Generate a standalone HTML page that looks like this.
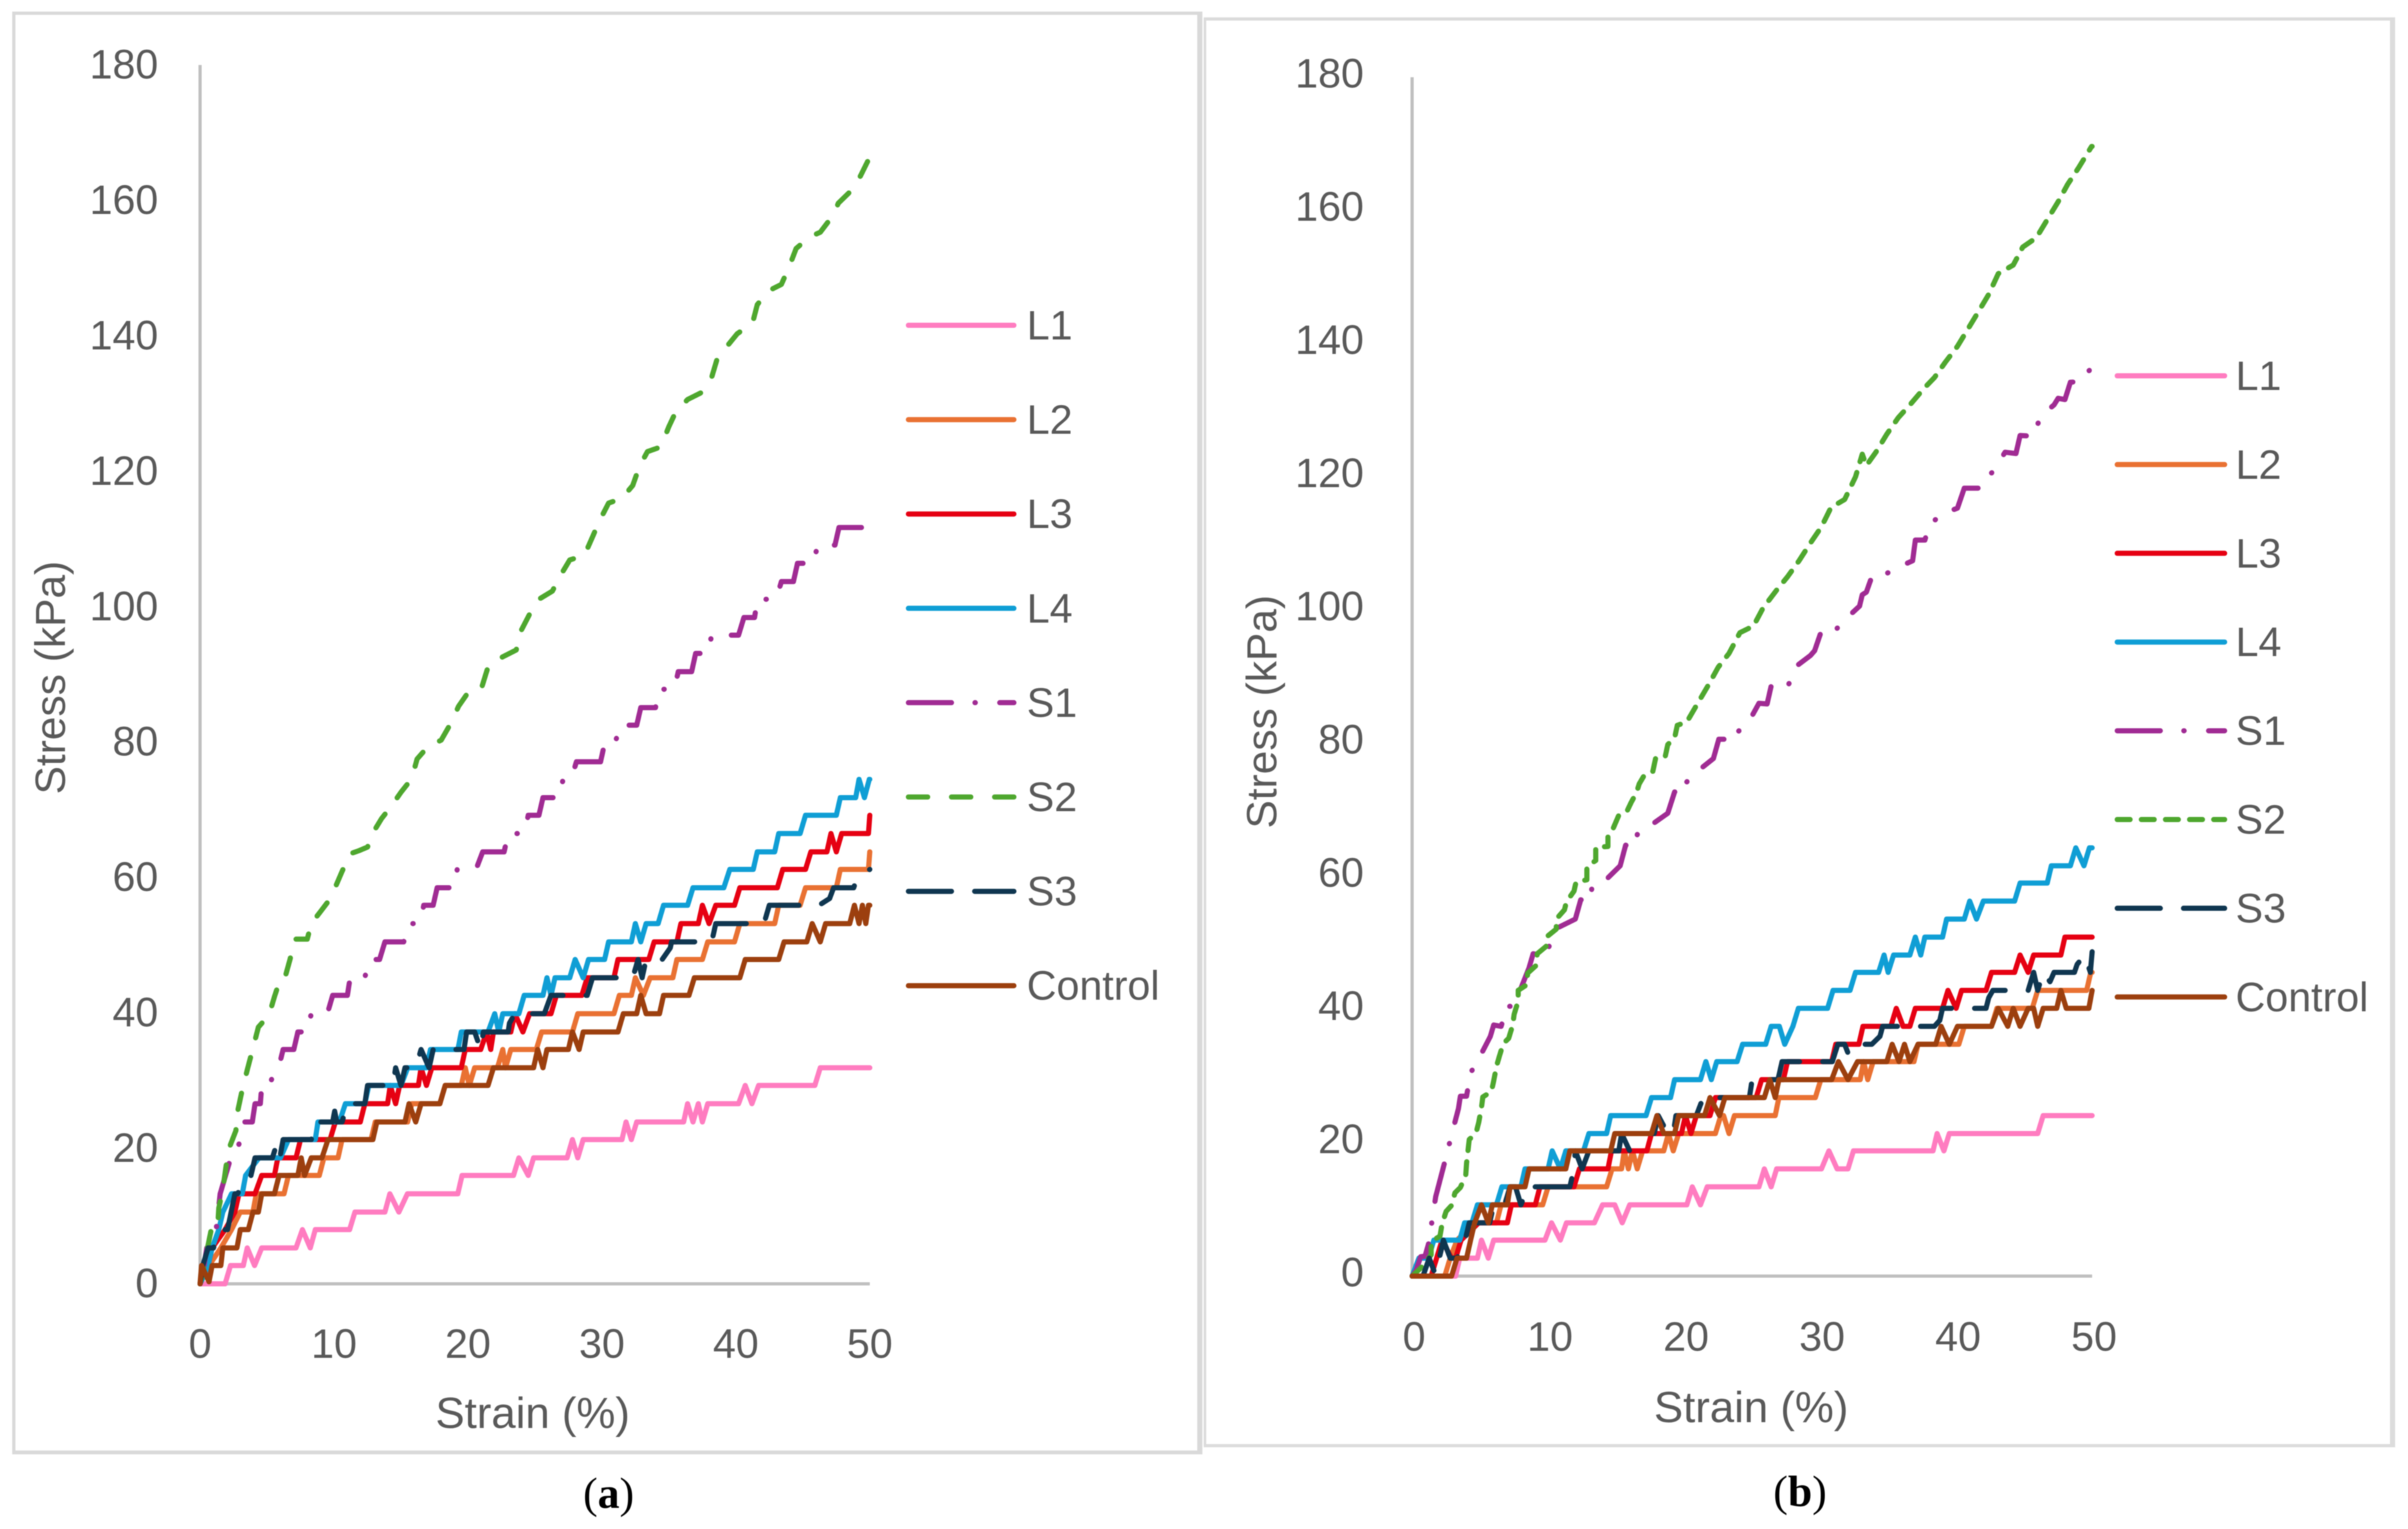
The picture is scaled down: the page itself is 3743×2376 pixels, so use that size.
<!DOCTYPE html>
<html lang="en">
<head>
<meta charset="utf-8">
<title>Stress vs strain charts</title>
<style>
html,body{margin:0;padding:0;background:#fff;width:3743px;height:2376px;overflow:hidden}
svg{display:block;filter:blur(0.9px)}
text{font-family:"Liberation Sans",sans-serif;fill:#595959}
.cap{font-family:"Liberation Serif",serif;fill:#000}
</style>
</head>
<body>
<svg id="figure" xmlns="http://www.w3.org/2000/svg" width="3743" height="2376" viewBox="0 0 3743 2376">
  <rect width="3743" height="2376" fill="#ffffff"/>
  <g fill="#d9d9d9">
    <rect x="19" y="18" width="1850" height="5"/>
    <rect x="19" y="18" width="5" height="2241"/>
    <rect x="19" y="2254" width="1850" height="6"/>
    <rect x="1861" y="18" width="8" height="2242"/>
  </g>
  <g fill="#dcdcdc">
    <rect x="1871" y="27" width="1852" height="5"/>
    <rect x="1871" y="27" width="4" height="2222"/>
    <rect x="1871" y="2244" width="1852" height="5"/>
    <rect x="3715" y="27" width="8" height="2222"/>
  </g>
  <text class="cap" x="946" y="2343" font-size="68" text-anchor="middle">(<tspan font-weight="bold">a</tspan>)</text>
  <text class="cap" x="2798" y="2340" font-size="68" text-anchor="middle">(<tspan font-weight="bold">b</tspan>)</text>
</svg>
<script>
const strainTicks = [0,10,20,30,40,50];
const stressTicks = [0,20,40,60,80,100,120,140,160,180];
const seriesNames = ['L1','L2','L3','L4','S1','S2','S3','Control'];

const aL1 = [[0,0],[1.87,0],[2.27,2.7],[3.23,2.7],[3.52,5.3],[4.07,2.7],[4.6,5.3],[7.16,5.3],[7.64,8],[8.23,5.3],[8.6,8],[11.16,8],[11.56,10.6],[13.8,10.6],[14.17,13.3],[14.84,10.6],[15.48,13.3],[19.24,13.3],[19.56,16],[23.4,16],[23.8,18.6],[24.5,16],[24.9,18.6],[27.4,18.6],[27.8,21.3],[28.2,18.6],[28.6,21.3],[31.5,21.3],[31.8,23.9],[32.2,21.3],[32.6,23.9],[36.1,23.9],[36.4,26.6],[36.8,23.9],[37.2,26.6],[37.5,23.9],[37.9,26.6],[40.2,26.6],[40.7,29.3],[41.2,26.6],[41.7,29.3],[45.9,29.3],[46.3,31.9],[50,31.9]];
const aL2 = [[0,0],[.67,2.7],[1.55,5.3],[2.35,8],[3,10.6],[3.95,10.6],[4.2,13.3],[6.27,13.3],[6.6,16],[8.9,16],[9.24,18.6],[10.3,18.6],[10.6,21.3],[12.76,21.3],[13.08,23.9],[15.5,23.9],[15.8,26.6],[17.9,26.6],[18.3,29.3],[19.5,29.3],[19.8,31.9],[20.1,29.3],[20.5,31.9],[22.2,31.9],[22.6,34.6],[22.8,31.9],[23.2,34.6],[25.1,34.6],[25.5,37.2],[27.8,37.2],[28.2,39.9],[30.9,39.9],[31.3,42.6],[32.2,42.6],[32.5,45.2],[33.1,42.6],[33.6,45.2],[35.3,45.2],[35.6,47.9],[37.5,47.9],[37.9,50.5],[39.9,50.5],[40.3,53.2],[42.9,53.2],[43.2,55.9],[44.8,55.9],[45.2,58.5],[47.5,58.5],[47.8,61.2],[49.9,61.2],[50,63.8]];
const aL3 = [[0,0],[.6,2.7],[.9,5.3],[1.87,8],[2.6,10.6],[2.9,13.3],[4.1,13.3],[4.6,16],[5.55,16],[5.8,18.6],[7.16,18.6],[7.5,21.3],[9.7,21.3],[10.1,23.9],[11.96,23.9],[12.3,26.6],[14,26.6],[14.2,29.3],[14.6,26.6],[14.9,29.3],[16.3,29.3],[16.5,31.9],[16.9,29.3],[17.3,31.9],[19.5,31.9],[19.8,34.6],[20.95,34.6],[21.4,37.2],[21.7,34.6],[21.9,37.2],[23.2,37.2],[23.5,39.9],[24.1,37.2],[24.6,39.9],[26.2,39.9],[26.6,42.6],[28.5,42.6],[28.9,45.2],[30.9,45.2],[31.2,47.9],[33.5,47.9],[33.9,50.5],[35.6,50.5],[35.9,53.2],[37.2,53.2],[37.5,55.9],[38,53.2],[38.5,55.9],[39.9,55.9],[40.3,58.5],[43.1,58.5],[43.5,61.2],[45.2,61.2],[45.6,63.8],[46.8,63.8],[47.1,66.5],[47.5,63.8],[47.9,66.5],[49.9,66.5],[50,69.2]];
const aL4 = [[0,0],[.6,2.7],[.9,5.3],[1.4,8],[1.7,10.6],[2.35,13.3],[3.15,13.3],[3.4,16],[4.4,18.6],[6,18.6],[6.6,21.3],[8.6,21.3],[8.8,23.9],[10.4,23.9],[10.85,26.6],[12.3,26.6],[12.6,29.3],[15,29.3],[15.5,31.9],[16.9,31.9],[17.2,34.6],[19.25,34.6],[19.5,37.2],[21.5,37.2],[22,39.9],[22.3,37.2],[22.6,39.9],[23.8,39.9],[24.2,42.6],[25.6,42.6],[25.9,45.2],[26.2,42.6],[26.5,45.2],[27.6,45.2],[28,47.9],[28.6,45.2],[29,47.9],[30.2,47.9],[30.5,50.5],[32.2,50.5],[32.5,53.2],[32.9,50.5],[33.3,53.2],[34.2,53.2],[34.6,55.9],[36.4,55.9],[36.8,58.5],[39.1,58.5],[39.55,61.2],[41.3,61.2],[41.6,63.8],[42.9,63.8],[43.2,66.5],[44.8,66.5],[45.2,69.2],[47.5,69.2],[47.8,71.8],[48.95,71.8],[49.2,74.5],[49.6,71.8],[49.96,74.5],[50,74.5]];
const aS1 = [[0,0],[.3,2.7],[.5,5.3],[.9,5.3],[1.2,8],[1.5,13.3],[2.2,18],[2.6,18.6],[3,21.3],[3.3,23.9],[3.9,23.9],[4.1,26.6],[4.5,26.6],[4.6,29.3],[5.2,29.3],[5.6,31.9],[6,33],[6.2,34.6],[7,34.6],[7.3,37.2],[8,37.2],[8.3,39.9],[9.5,39.9],[9.9,42.6],[11,42.6],[11.2,45.2],[12.3,45.2],[12.6,47.9],[13.4,47.9],[13.8,50.5],[15.2,50.5],[15.6,53.2],[16.4,53.2],[16.7,55.9],[17.4,55.9],[17.7,58.5],[18.9,58.5],[19.2,61.2],[20.6,61.2],[21.1,63.8],[22.7,63.8],[23,66.5],[24.2,66.5],[24.5,69.2],[25.3,69.2],[25.6,71.8],[26.8,71.8],[27.1,74.5],[27.7,74.5],[28.1,77.1],[29.9,77.1],[30.2,79.8],[31,79.8],[31.3,82.5],[32.6,82.5],[32.9,85.1],[34,85.1],[34.3,87.8],[35.4,87.8],[35.7,90.4],[36.7,90.4],[37,93.1],[37.9,93.1],[38.2,95.8],[40.2,95.8],[40.6,98.4],[41.4,98.4],[41.6,101.1],[43,101.1],[43.4,103.7],[44.3,103.7],[44.6,106.4],[45.8,106.4],[46.1,109.1],[47.4,109.1],[47.7,111.7],[49.7,111.7],[49.9,114],[50,114]];
const aS2 = [[0,0],[.3,2.7],[.6,5.75],[.83,8],[1.3,8],[1.4,11.2],[1.7,14],[1.95,17.5],[2.2,20.2],[2.67,22.6],[2.83,25.7],[3.15,28.7],[3.55,31.8],[3.95,34.8],[4.35,37.9],[5.15,39.7],[5.55,42.4],[6,45.1],[6.35,45.3],[6.7,47.8],[7.1,50.9],[8,50.9],[8.3,53.2],[9,55],[9.5,56.3],[10.1,58.6],[10.6,60.9],[11.2,63.5],[11.9,64],[12.5,64.5],[12.9,66.6],[13.55,68.7],[14.3,70.6],[15,72.6],[15.8,74.6],[16.2,77.5],[17,79.3],[18,80.3],[18.7,82.7],[19.3,85.3],[20,87.3],[21,87.9],[21.5,91.1],[22.5,92.5],[23.6,93.6],[24,96.6],[24.6,98.9],[25.3,101.1],[26.3,102.3],[26.9,104.6],[27.6,106.9],[28.7,107.6],[29.3,110.3],[29.8,112.6],[30.5,115.3],[31.5,116],[32.3,117.9],[32.8,120.7],[33.4,122.9],[34.4,123.6],[35,126.6],[35.5,128.7],[36.4,130.6],[37.4,131.6],[38.2,133.9],[38.6,136.6],[39.4,138.6],[40.1,140.3],[41.25,141.9],[41.6,144.6],[42.4,146.6],[43.4,147.6],[44,150.3],[44.5,152.9],[45.5,154.6],[46.3,155.3],[47.3,157.9],[47.65,159.6],[48.7,161.6],[49.3,163.6],[49.9,166],[50,166]];
const aS3 = [[0,0],[.2,2.7],[.6,5.3],[1,5.3],[1.55,8],[2.05,8],[2.6,13.3],[2.8,13.3],[3.5,16],[3.8,16],[4.1,18.6],[5.4,18.6],[5.7,20.5],[5.95,18.6],[6.2,21.3],[8.3,21.3],[8.6,23.9],[9.9,23.9],[10.05,25.5],[10.2,23.9],[10.6,23.9],[11,26.6],[12.3,26.6],[12.5,29.3],[14.4,29.3],[14.6,31.9],[15,29.3],[15.3,31.9],[16.1,31.9],[16.5,34.6],[17.1,31.9],[17.4,34.6],[19.7,34.6],[19.9,37.2],[20.5,37.2],[20.95,34.6],[21.15,37.2],[23,37.2],[23.1,38.5],[23.5,39.9],[25.7,39.9],[26.2,42.6],[28.9,42.6],[29.3,45.2],[32.3,45.2],[32.7,47.9],[33,45.2],[33.3,47.9],[34.5,47.9],[35.1,49.6],[35.2,50.5],[38.2,50.5],[38.5,53.2],[42.1,53.2],[42.5,55.9],[46.2,55.9],[47,56.9],[47.3,58.5],[48.8,58.5],[49,59.7],[50,61.2]];
const aControl = [[0,0],[.11,2.7],[.67,.3],[.9,2.7],[1.55,2.7],[1.7,5.3],[2.75,5.3],[3,8],[3.6,8],[3.95,10.6],[4.35,10.6],[4.6,13.3],[5.55,13.3],[5.9,16],[7.3,16],[7.55,18.6],[7.8,16],[8.3,18.6],[9.1,18.6],[9.55,21.3],[12.9,21.3],[13.2,23.9],[15.3,23.9],[15.6,26.6],[16.1,23.9],[16.5,26.6],[17.9,26.6],[18.3,29.3],[21.5,29.3],[21.9,31.9],[24.9,31.9],[25.2,34.6],[25.6,31.9],[25.9,34.6],[27.5,34.6],[27.8,37.2],[28.3,34.6],[28.6,37.2],[31.2,37.2],[31.6,39.9],[32.6,39.9],[32.9,42.6],[33.3,39.9],[34.3,39.9],[34.6,42.6],[36.5,42.6],[36.9,45.2],[40.3,45.2],[40.7,47.9],[43.2,47.9],[43.6,50.5],[45.3,50.5],[45.7,53.2],[46.3,50.5],[46.7,53.2],[48.5,53.2],[48.85,55.9],[49.2,53.2],[49.45,55.9],[49.7,53.2],[49.9,55.9],[50,55.9]];

const bL1 = [[0,0],[3.2,0],[3.5,2.7],[4.8,2.7],[5.1,5.4],[5.6,2.7],[6,5.4],[9.77,5.4],[10.25,8],[10.9,5.4],[11.35,8],[13.4,8],[14,10.7],[14.9,10.7],[15.45,8],[16,10.7],[20.2,10.7],[20.6,13.4],[21.2,10.7],[21.7,13.4],[25.5,13.4],[25.9,16.1],[26.4,13.4],[26.8,16.1],[30.1,16.1],[30.65,18.8],[31.25,16.1],[32.05,16.1],[32.45,18.8],[38.3,18.8],[38.6,21.4],[39.1,18.8],[39.5,21.4],[46,21.4],[46.4,24.1],[50,24.1]];
const bL2 = [[0,0],[2.4,0],[2.8,2.7],[3.3,5.4],[4.6,8],[6.2,8],[6.54,10.7],[9.6,10.7],[10,13.4],[14.3,13.4],[14.7,16.1],[15.4,16.1],[15.6,18.8],[15.9,16.1],[16.2,18.8],[16.55,16.1],[16.95,18.8],[18.5,18.8],[18.85,21.4],[19.2,18.8],[19.6,21.4],[22.3,21.4],[22.7,24.1],[22.9,24.1],[23.3,21.4],[23.7,24.1],[26.7,24.1],[26.97,26.8],[29.65,26.8],[30.05,29.5],[32.95,29.5],[33.2,32.2],[33.5,29.5],[33.9,32.2],[36.9,32.2],[37.2,34.8],[40.2,34.8],[40.6,37.5],[42.6,37.5],[43,40.2],[45.6,40.2],[46,42.9],[49.6,42.9],[49.9,45.6],[50,45.6]];
const bL3 = [[0,0],[1.4,0],[1.8,2.7],[2.2,5.4],[2.9,2.7],[3.2,2.7],[3.6,5.4],[4.9,8],[7,8],[7.3,10.7],[9.06,10.7],[9.4,13.4],[11.9,13.4],[12.3,16.1],[14.4,16.1],[14.66,18.8],[17.26,18.8],[17.6,21.4],[19.8,21.4],[20.1,24.1],[20.5,21.4],[20.9,24.1],[21.9,24.1],[22.3,26.8],[25.3,26.8],[25.7,29.5],[27.3,29.5],[27.6,32.2],[30.85,32.2],[31.15,34.8],[32.85,34.8],[33.15,37.5],[35.2,37.5],[35.6,40.2],[36.1,37.5],[36.6,37.5],[37,40.2],[39,40.2],[39.4,42.9],[40,40.2],[40.4,42.9],[42.2,42.9],[42.6,45.6],[44.3,45.6],[44.7,48.2],[45.3,45.6],[45.7,48.2],[47.7,48.2],[48,50.9],[50,50.9]];
const bL4 = [[0,0],[.5,2.7],[1.2,2.7],[1.6,5.4],[3.5,5.4],[3.86,8],[4.4,8],[4.8,10.7],[6.2,10.7],[6.6,13.4],[8,13.4],[8.3,16.1],[10,16.1],[10.3,18.8],[10.9,16.1],[11.3,18.8],[12.6,18.8],[13,21.4],[14.3,21.4],[14.6,24.1],[17.2,24.1],[17.6,26.8],[19,26.8],[19.3,29.5],[21.2,29.5],[21.6,32.2],[22,29.5],[22.4,32.2],[23.9,32.2],[24.3,34.8],[26,34.8],[26.4,37.5],[27,37.5],[27.4,34.8],[28,37.5],[28.4,40.2],[30.55,40.2],[30.95,42.9],[32.2,42.9],[32.6,45.6],[34.3,45.6],[34.7,48.2],[35,45.6],[35.4,48.2],[36.6,48.2],[37,50.9],[37.4,48.2],[37.7,50.9],[39,50.9],[39.3,53.6],[40.6,53.6],[41,56.3],[41.5,53.6],[42,56.3],[44.3,56.3],[44.7,59],[46.7,59],[47,61.6],[48.4,61.6],[48.8,64.3],[49.4,61.6],[49.8,64.3],[50,64.3]];
const bS1 = [[0,0],[.3,.9],[.63,2.9],[.95,3],[1.2,4.8],[1.47,8.4],[1.73,11.9],[2.5,17.9],[2.95,21.6],[3.4,25.1],[3.55,27],[4,27],[4.3,30.5],[5.07,33.3],[5.75,36],[6,37.7],[6.54,37.5],[7,40.5],[7.3,40.5],[7.9,42.7],[8.6,46.3],[8.9,48.4],[9.85,48.1],[10.1,49.7],[10.8,52.4],[12,53.6],[12.4,56.5],[13.1,56.3],[13.24,58.7],[14.4,59.8],[15.3,61.6],[15.7,64.7],[16.3,64.4],[16.6,66.6],[17.7,67.9],[18.8,69.5],[19.3,72.7],[19.9,72.4],[20.2,74.2],[21.1,76],[22.15,77.7],[22.55,80.6],[23.8,80.6],[23.9,81.6],[24.8,83.4],[25.5,86],[26.1,85.9],[26.4,88.6],[27.6,88.4],[28.2,91.5],[29.3,93.2],[29.6,93.9],[30.1,96.9],[31.04,96.8],[31.9,98.7],[32.9,100.6],[33.1,102.3],[33.4,102.7],[33.8,105],[34.4,104.9],[35.5,106.2],[36.8,107.4],[37,110.5],[37.7,110.5],[38,112.5],[38.8,114.3],[40.1,115.3],[40.6,118.3],[41.7,118.3],[41.9,119.1],[42.8,121],[43.6,123.7],[44.4,123.5],[44.7,126.2],[45.7,126.1],[46.2,129.1],[47.2,130.8],[47.5,131.8],[48,131.6],[48.4,134.2],[49,134.3],[49.9,136.2],[50,136.2]];
const bS2 = [[0,0],[.63,1.2],[1.4,3.2],[1.4,5.2],[2.05,6],[2.2,7.8],[2.5,9.7],[2.9,10.6],[3.15,12.5],[3.55,13.3],[3.94,15.1],[4,16.9],[4.1,18.7],[4.2,20.5],[4.7,21.5],[4.9,23.1],[5.1,25.3],[5.2,26.9],[5.83,27.7],[6,29.3],[6.2,31.5],[6.4,32.9],[6.7,34.9],[7.1,35.7],[7.4,37.7],[7.5,39.3],[7.8,41.3],[7.8,42.9],[8.4,43.7],[8.5,45.5],[9.1,46.6],[9.2,48.4],[9.85,49.5],[9.93,51],[10.6,52.1],[10.6,53.6],[11.2,55],[11.35,56.2],[11.9,57.8],[12.06,59.2],[12.85,59.5],[12.85,61.5],[13.5,62.4],[13.5,64.4],[14.4,64.5],[14.4,66.3],[14.8,67.3],[15.2,69.2],[15.8,69.8],[16.1,71.1],[16.5,72.6],[16.7,73.9],[17.1,75.3],[17.7,75.8],[17.9,77.7],[18.6,77.9],[18.8,79.8],[19.3,80.8],[19.5,82.7],[20.2,83.2],[21,86],[21.8,88.8],[22.5,91.4],[23.3,93.5],[24.1,96.6],[25.1,97.6],[25.8,100.3],[26.8,103],[27.6,105],[28.45,107.4],[29.3,110.1],[30.1,112.5],[30.8,115.4],[31.8,116.6],[32.6,120],[33.1,123.4],[33.4,121.7],[34.1,123.7],[34.9,126.4],[35.75,128.9],[36.6,130.8],[37.6,133.2],[38.4,134.9],[39.2,137.2],[40.1,139.6],[40.9,142.3],[41.7,145],[42.4,147.4],[43.1,150.5],[44.2,151.8],[44.9,154.5],[45.9,155.9],[46.7,158.6],[47.5,161.3],[48.2,163.9],[49,166.4],[49.96,169.6],[50,169.6]];
const bS3 = [[0,0],[.8,0],[1.26,2.7],[1.7,.3],[2,2.7],[2.3,5.4],[2.8,2.7],[3.3,2.7],[3.9,5.4],[4.2,8],[5.7,8],[6,10.7],[6.8,10.7],[7.2,13.4],[7.6,13.4],[8,10.7],[8.5,13.4],[11.6,13.4],[11.9,16.1],[12,18.8],[12.5,16.1],[13,18.8],[15.2,18.8],[15.4,21.4],[16,18.8],[16.5,21.4],[17.8,21.4],[18.1,24.1],[18.8,21.4],[19.2,21.4],[19.4,24.1],[20.9,24.1],[21.4,26.8],[24.8,26.8],[25,29.5],[26.9,29.5],[27.2,32.2],[30.9,32.2],[31.3,34.8],[31.8,34.8],[32.05,33.5],[32.4,34.8],[33.8,34.8],[34.4,36],[34.6,37.5],[38.4,37.5],[38.8,38.4],[39,40.2],[42.2,40.2],[42.4,41.8],[42.7,42.9],[45.3,42.9],[45.7,45.6],[46,42.9],[46.4,45.6],[46.9,44.2],[47.2,45.6],[48.7,45.6],[48.9,46.8],[49.45,48.2],[49.87,45.6],[50,48.7]];
const bControl = [[0,0],[2.9,0],[3.3,2.7],[4,2.7],[4.3,5.4],[4.6,8],[5.1,10.7],[5.6,8],[5.9,10.7],[7,10.7],[7.2,13.4],[8.3,13.4],[8.6,16.1],[11.3,16.1],[11.6,18.8],[14.6,18.8],[14.9,21.4],[17.6,21.4],[18,24.1],[18.5,21.4],[19.3,21.4],[19.6,24.1],[21.5,24.1],[21.9,26.8],[22.6,24.1],[23,26.8],[25.9,26.8],[26.3,29.5],[26.7,26.8],[26.97,29.5],[30.85,29.5],[31.35,32.2],[32.05,29.5],[32.75,32.2],[34.9,32.2],[35.3,34.8],[35.8,32.2],[36.2,34.8],[36.6,32.2],[37.2,34.8],[38.5,34.8],[38.9,37.5],[39.5,34.8],[40.1,37.5],[42.6,37.5],[43.1,40.2],[43.8,37.5],[44.2,40.2],[44.7,37.5],[45.3,40.2],[45.7,40.2],[46,37.5],[46.4,40.2],[47.4,40.2],[47.7,42.9],[48.1,40.2],[49.76,40.2],[50,42.9]];

const panelASeries = [aL1,aL2,aL3,aL4,aS1,aS2,aS3,aControl];
const panelBSeries = [bL1,bL2,bL3,bL4,bS1,bS2,bS3,bControl];

const seriesColors = ['#ff7cc0','#e97132','#e60012','#0f9ed5','#a02b93','#4ea72e','#0f3650','#9c3f0e'];
const NS = 'http://www.w3.org/2000/svg';
const root = document.getElementById('figure');

function svgEl(parent, tag, attrs){
  const el = document.createElementNS(NS, tag);
  for (const k in attrs) el.setAttribute(k, attrs[k]);
  parent.appendChild(el);
  return el;
}

function drawPanel(series, p){
  const prefix = p.id;
  const xScale = s => p.x0 + (p.x50 - p.x0) * s / 50;
  const yScale = v => p.y0 + (p.y180 - p.y0) * v / 180;

  const chart = svgEl(root, 'g', {});
  
  

  const yAxis = svgEl(chart, 'line', {x1:xScale(0), x2:xScale(0), y1:yScale(180), y2:yScale(0), stroke:'#bfbfbf', 'stroke-width':5});
  
  
  const xAxis = svgEl(chart, 'line', {x1:xScale(0), x2:xScale(50), y1:yScale(0), y2:yScale(0), stroke:'#bfbfbf', 'stroke-width':5});
  
  

  stressTicks.forEach(v => {
    const t = svgEl(chart, 'text', {x:p.yLabelX, y:yScale(v) + 23 + p.yLabelShift, 'font-size':64, 'text-anchor':'end'});
    t.textContent = String(v);
    
    
  });
  strainTicks.forEach(v => {
    const t = svgEl(chart, 'text', {x:xScale(v) + p.xLabelShift, y:p.xLabelY + 23, 'font-size':64, 'text-anchor':'middle'});
    t.textContent = String(v);
    
    
  });

  const xTitle = svgEl(chart, 'text', {x:p.xTitleX, y:p.xTitleY + 24, 'font-size':68, 'text-anchor':'middle'});
  xTitle.textContent = 'Strain (%)';
  
  
  const yTitle = svgEl(chart, 'text', {x:p.yTitleX, y:p.yTitleY, 'font-size':66, 'text-anchor':'middle', transform:'rotate(-90 ' + p.yTitleX + ' ' + p.yTitleY + ')', dy:24});
  yTitle.textContent = 'Stress (kPa)';
  
  

  const dashes = ['', '', '', '', '67 36.5 0.5 38', p.s2Dash, '67 36', ''];
  series.forEach((points, i) => {
    const d = points.map((pt, k) => (k ? 'L' : 'M') + xScale(pt[0]).toFixed(1) + ' ' + yScale(pt[1]).toFixed(1)).join(' ');
    const line = svgEl(chart, 'path', {d:d, fill:'none', stroke:seriesColors[i], 'stroke-width':8, 'stroke-linecap':'round', 'stroke-linejoin':'round'});
    if (dashes[i]) line.setAttribute('stroke-dasharray', dashes[i]);
    if (p.dashLength[i]) line.setAttribute('pathLength', p.dashLength[i]);
    
    
  });

  seriesNames.forEach((name, i) => {
    const ly = p.legendY + i * p.legendStep;
    const entry = svgEl(chart, 'g', {});
    
    
    const swatch = svgEl(entry, 'line', {x1:p.legendX1 + 4, x2:p.legendX2 - 4, y1:ly, y2:ly, stroke:seriesColors[i], 'stroke-width':8, 'stroke-linecap':'round'});
    if (dashes[i]) swatch.setAttribute('stroke-dasharray', dashes[i]);
    const label = svgEl(entry, 'text', {x:p.legendTextX, y:ly + 22, 'font-size':64});
    label.textContent = name;
  });
}

drawPanel(panelASeries, {id:'panel-a', x0:311, x50:1352, y0:1995, y180:101, yLabelX:246, yLabelShift:-2, xLabelY:2087, xLabelShift:0, xTitleX:828, xTitleY:2195, yTitleX:77, yTitleY:1053, legendX1:1408, legendX2:1580, legendY:505.5, legendStep:146.6, legendTextX:1596, s2Dash:'30 37', dashLength:[0,0,0,0,2090,2515,0,0]});
drawPanel(panelBSeries, {id:'panel-b', x0:2195, x50:3252, y0:1983, y180:120, yLabelX:2120, yLabelShift:-7, xLabelY:2076, xLabelShift:3, xTitleX:2722, xTitleY:2186, yTitleX:1960, yTitleY:1106, legendX1:3287, legendX2:3462, legendY:584, legendStep:137.9, legendTextX:3475, s2Dash:'20 17.5', dashLength:[0,0,0,0,2240,0,0,0]});
</script>
</body>
</html>
